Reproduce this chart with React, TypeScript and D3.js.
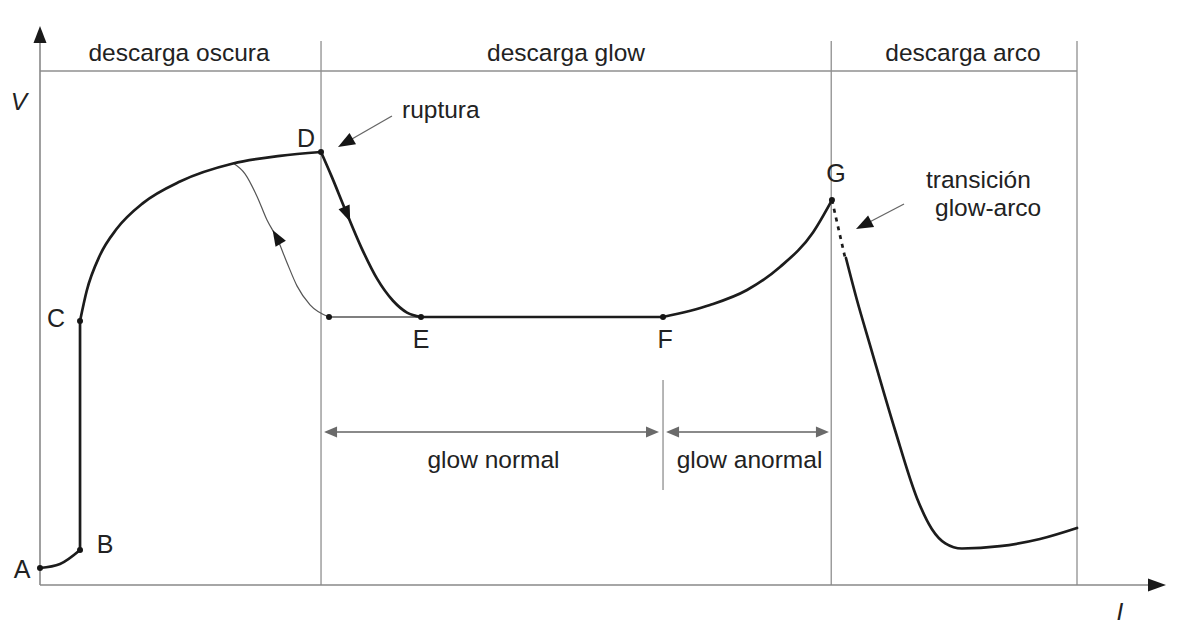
import React, { useEffect, useRef } from "react";
import * as d3 from "d3";

// regions of the discharge (I in arbitrary units, 0..100)
const regionLabels = ["descarga oscura", "descarga glow", "descarga arco"];
const regionEdges = [0, 27.1, 76.3, 100];

// characteristic points
const pointNames = ["A", "B", "C", "D", "E", "F", "G"];
const pointI = [0, 3.86, 3.86, 27.1, 36.74, 60.08, 76.37];
const pointV = [3.31, 6.81, 51.36, 84.24, 52.14, 52.14, 74.9];

// curve pieces, [I, V]
const curveAB = [[0, 3.31], [1.93, 4.09], [3.86, 6.81]];
const curveBC = [[3.86, 6.81], [3.86, 51.36]];
const curveCD = [
  [3.86, 51.36], [4.5, 57.2], [5.79, 64.2], [7.4, 69.3], [9.93, 74.3],
  [13.5, 78.5], [18.61, 82.0], [23.14, 83.5], [27.1, 84.24]
];
const curveDE = [
  [27.1, 84.24], [28.1, 79.6], [29.4, 73.2], [31.0, 65.6], [32.5, 59.6],
  [34.04, 55.3], [35.39, 53.0], [36.74, 52.14]
];
const curveEF = [[36.74, 52.14], [60.08, 52.14]];
const curveFG = [
  [60.08, 52.14], [64.61, 54.47], [68.18, 57.39], [71.36, 61.87], [74.54, 68.6], [76.37, 74.9]
];
const transitionGA = [[76.37, 74.9], [77.62, 63.81]];
const curveArc = [
  [77.72, 63.62], [78.78, 55.45], [80.04, 46.69], [82.45, 30.16], [84.57, 16.9],
  [86.0, 10.9], [87.3, 8.1], [88.9, 7.1], [92.57, 7.55], [96.43, 8.95], [100, 11.09]
];
// hysteresis return branch (listed by increasing I; travelled from the lower dot up)
const returnStart = [27.87, 52.14];
const returnBranch = [
  [18.61, 82.1], [19.77, 80.0], [20.93, 75.6], [21.89, 71.0], [22.85, 67.5],
  [23.82, 62.7], [24.78, 58.2], [26.04, 54.5], [27.87, 52.14]
];
const returnFlat = [[27.87, 52.14], [36.74, 52.14]];

// arrow tips on the curves
const tipDE = [29.8, 70.6];
const tipReturn = [22.47, 69.07];

// sub-ranges of the glow region
const glowRanges = [
  { label: "glow normal", from: 27.39, to: 59.69 },
  { label: "glow anormal", from: 60.37, to: 76.08 }
];
const glowArrowV = 29.77;
const glowDivider = { I: 60.08, top: 39.88, bottom: 18.48 };

// annotations
const rupturaArrow = [[33.94, 91.25], [28.74, 85.21]];
const transArrow = [[83.32, 74.12], [78.69, 69.26]];

const labelOffsets: Record<string, [number, number, string]> = {
  A: [-18, 10, "middle"],
  B: [25, 3, "middle"],
  C: [-24, 6, "middle"],
  D: [-15, -5, "middle"],
  E: [0, 31, "middle"],
  F: [2, 31, "middle"],
  G: [4, -18, "middle"]
};

const FONT = "'Liberation Sans', Arial, sans-serif";

export default function App() {
  const ref = useRef<SVGSVGElement>(null);

  useEffect(() => {
    const svg = d3.select(ref.current);
    svg.selectAll("*").remove();

    const x = d3.scaleLinear().domain([0, 100]).range([40, 1077]);
    const y = d3.scaleLinear().domain([0, 100]).range([585, 71]);

    const line = d3.line<number[]>()
      .x(d => x(d[0]))
      .y(d => y(d[1]))
      .curve(d3.curveMonotoneX);

    const head = (tx: number, ty: number, ang: number, len: number, half: number, fill: string) => {
      const c = Math.cos(ang), s = Math.sin(ang);
      const bx = tx - len * c, by = ty - len * s;
      svg.append("polygon")
        .attr("points", [
          [tx, ty],
          [bx - half * s, by + half * c],
          [bx + half * s, by - half * c]
        ].map(p => p.join(",")).join(" "))
        .attr("fill", fill);
    };

    const frameColor = "#8f8f8f";
    const textColor = "#222";

    // frame: top line and region dividers
    svg.append("line")
      .attr("x1", x(0)).attr("x2", x(100))
      .attr("y1", y(100)).attr("y2", y(100))
      .attr("stroke", frameColor).attr("stroke-width", 1.4);

    regionEdges.slice(1).forEach(e => {
      svg.append("line")
        .attr("x1", x(e)).attr("x2", x(e))
        .attr("y1", 41).attr("y2", y(0))
        .attr("stroke", frameColor).attr("stroke-width", 1.3);
    });

    regionLabels.forEach((lab, i) => {
      svg.append("text")
        .attr("x", i === 0 ? 179 : i === 1 ? 566 : 963)
        .attr("y", y(100) - 10)
        .attr("text-anchor", "middle")
        .attr("font-family", FONT)
        .attr("font-size", 24.5)
        .attr("fill", textColor)
        .text(lab);
    });

    // axes
    svg.append("line")
      .attr("x1", x(0)).attr("x2", 1150)
      .attr("y1", y(0)).attr("y2", y(0))
      .attr("stroke", "#888").attr("stroke-width", 1.6);
    head(1166, y(0), 0, 18, 6.5, "#1a1a1a");
    svg.append("line")
      .attr("x1", x(0)).attr("x2", x(0))
      .attr("y1", y(0)).attr("y2", 40)
      .attr("stroke", "#888").attr("stroke-width", 1.6);
    head(x(0), 26, -Math.PI / 2, 17, 6.5, "#1a1a1a");

    svg.append("text")
      .attr("x", 19).attr("y", 110)
      .attr("text-anchor", "middle")
      .attr("font-family", FONT).attr("font-style", "italic")
      .attr("font-size", 24.5).attr("fill", textColor)
      .text("V");
    svg.append("text")
      .attr("x", 1120).attr("y", 620)
      .attr("text-anchor", "middle")
      .attr("font-family", FONT).attr("font-style", "italic")
      .attr("font-size", 24.5).attr("fill", textColor)
      .text("I");

    // glow sub-ranges
    svg.append("line")
      .attr("x1", x(glowDivider.I)).attr("x2", x(glowDivider.I))
      .attr("y1", y(glowDivider.top)).attr("y2", y(glowDivider.bottom))
      .attr("stroke", frameColor).attr("stroke-width", 1.3);
    glowRanges.forEach(r => {
      const x1 = x(r.from), x2 = x(r.to), yy = y(glowArrowV);
      svg.append("line")
        .attr("x1", x1 + 10).attr("x2", x2 - 10)
        .attr("y1", yy).attr("y2", yy)
        .attr("stroke", "#8a8a8a").attr("stroke-width", 2);
      head(x1, yy, Math.PI, 13, 5.5, "#6a6a6a");
      head(x2, yy, 0, 13, 5.5, "#6a6a6a");
      svg.append("text")
        .attr("x", (x1 + x2) / 2 + 2).attr("y", yy + 36)
        .attr("text-anchor", "middle")
        .attr("font-family", FONT).attr("font-size", 24.5).attr("fill", textColor)
        .text(r.label);
    });

    // thin return branch
    svg.append("path").attr("d", line(returnFlat)!)
      .attr("fill", "none").attr("stroke", "#555").attr("stroke-width", 1.4);
    const ret = svg.append("path").attr("d", line(returnBranch)!)
      .attr("fill", "none").attr("stroke", "#555").attr("stroke-width", 1.2);

    // main characteristic
    const thick = { stroke: "#1c1c1c", w: 2.7 };
    [curveAB, curveBC, curveCD, curveEF, curveFG, curveArc].forEach(seg => {
      svg.append("path").attr("d", line(seg)!)
        .attr("fill", "none").attr("stroke", thick.stroke)
        .attr("stroke-width", thick.w).attr("stroke-linecap", "round");
    });
    const de = svg.append("path").attr("d", line(curveDE)!)
      .attr("fill", "none").attr("stroke", thick.stroke)
      .attr("stroke-width", thick.w).attr("stroke-linecap", "round");
    svg.append("path").attr("d", line(transitionGA)!)
      .attr("fill", "none").attr("stroke", thick.stroke)
      .attr("stroke-width", 2.7).attr("stroke-dasharray", "4,5");

    // arrowheads along curves (reverse flips the travel direction)
    const arrowOnPath = (p: SVGPathElement, tip: number[], len: number, half: number, reverse: boolean) => {
      const total = p.getTotalLength();
      const tx = x(tip[0]), ty = y(tip[1]);
      let best = 0, bestD = Infinity;
      for (let l = 0; l <= total; l += 0.5) {
        const pt = p.getPointAtLength(l);
        const dd = (pt.x - tx) ** 2 + (pt.y - ty) ** 2;
        if (dd < bestD) { bestD = dd; best = l; }
      }
      const a = p.getPointAtLength(Math.max(0, best - 4));
      const b = p.getPointAtLength(Math.min(total, best + 4));
      const pt = p.getPointAtLength(best);
      let ang = Math.atan2(b.y - a.y, b.x - a.x);
      if (reverse) ang += Math.PI;
      head(pt.x, pt.y, ang, len, half, "#151515");
    };
    arrowOnPath(de.node() as SVGPathElement, tipDE, 16, 6, false);
    arrowOnPath(ret.node() as SVGPathElement, tipReturn, 16, 6, true);

    // dots
    const dots = pointI.map((v, i) => [v, pointV[i]]).concat([returnStart]);
    svg.selectAll("circle.pt").data(dots).enter().append("circle")
      .attr("cx", d => x(d[0])).attr("cy", d => y(d[1]))
      .attr("r", 3).attr("fill", "#151515");

    // point labels
    pointNames.forEach((n, i) => {
      const [dx, dy, anchor] = labelOffsets[n];
      svg.append("text")
        .attr("x", x(pointI[i]) + dx).attr("y", y(pointV[i]) + dy)
        .attr("text-anchor", anchor)
        .attr("font-family", FONT).attr("font-size", 25).attr("fill", textColor)
        .text(n);
    });

    // annotation arrows
    [rupturaArrow, transArrow].forEach(arr => {
      const [s, t] = arr;
      const sx = x(s[0]), sy = y(s[1]), tx = x(t[0]), ty = y(t[1]);
      const ang = Math.atan2(ty - sy, tx - sx);
      svg.append("line")
        .attr("x1", sx).attr("y1", sy)
        .attr("x2", tx - 12 * Math.cos(ang)).attr("y2", ty - 12 * Math.sin(ang))
        .attr("stroke", "#666").attr("stroke-width", 1.3);
      head(tx, ty, ang, 17, 6.5, "#151515");
    });

    svg.append("text")
      .attr("x", 402).attr("y", 118)
      .attr("font-family", FONT).attr("font-size", 24.5).attr("fill", textColor)
      .text("ruptura");
    svg.append("text")
      .attr("x", 926).attr("y", 188)
      .attr("font-family", FONT).attr("font-size", 24.5).attr("fill", textColor)
      .text("transición");
    svg.append("text")
      .attr("x", 935).attr("y", 216)
      .attr("font-family", FONT).attr("font-size", 24.5).attr("fill", textColor)
      .text("glow-arco");
  }, []);

  return (
    <svg
      ref={ref}
      width={1180}
      height={633}
      style={{ position: "absolute", left: 0, top: 0, background: "#fff" }}
    />
  );
}
